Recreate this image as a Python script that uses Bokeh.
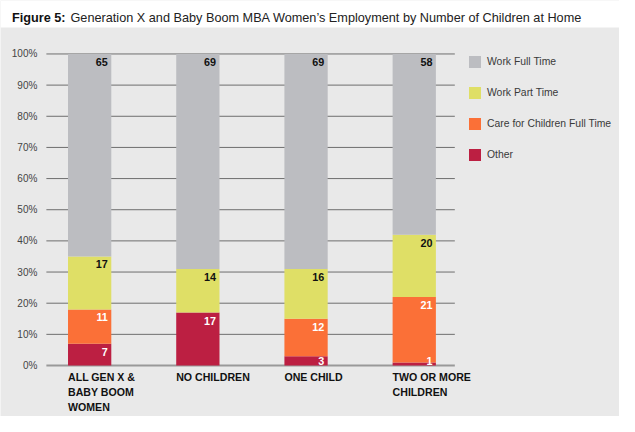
import numpy as np
from bokeh.plotting import figure
from bokeh.models import ColumnDataSource, Range1d, Legend, LegendItem
from bokeh.core.properties import value
from bokeh.embed import file_html
from bokeh.resources import INLINE

# data (percent of women)
categories = ["ALL GEN X &\nBABY BOOM\nWOMEN", "NO CHILDREN", "ONE CHILD", "TWO OR MORE\nCHILDREN"]
other = [7, 17, 3, 1]
care_children = [11, 0, 12, 21]
work_part = [17, 14, 16, 20]
work_full = [65, 69, 69, 58]
series_names = ["Other", "Care for Children Full Time", "Work Part Time", "Work Full Time"]
series_colors = ["#bc1f42", "#fb7037", "#dfdf66", "#bcbdc1"]
label_colors = ["white", "white", "#111111", "#111111"]
y_ticks = [0, 10, 20, 30, 40, 50, 60, 70, 80, 90, 100]
tick_labels = [f"{t}%" for t in y_ticks]

title_bold = "Figure 5:"
title_rest = "Generation X and Baby Boom MBA Women\u2019s Employment by Number of Children at Home"

# layout (the plot frame covers the whole canvas)
W, H = 619, 416
x_start, x_end = -0.824, 4.897
y_start, y_end = -16.37, 117.16
band_bottom = 108.5
grid_left, grid_right = -0.40, 3.375
bar_w = 0.4
bg = "#e9e9e9"
font = "Liberation Sans"

x = np.arange(len(categories))
src = ColumnDataSource(dict(x=x, other=other, care=care_children, part=work_part, full=work_full))

p = figure(width=W, height=H, x_range=Range1d(x_start, x_end), y_range=Range1d(y_start, y_end),
           toolbar_location=None, output_backend="svg", min_border=0)
p.axis.visible = False
p.grid.visible = False
p.outline_line_color = None
p.background_fill_color = bg
p.border_fill_color = "white"

# white title band
p.quad(left=x_start, right=x_end, bottom=band_bottom, top=y_end, fill_color="white", line_color=None)
p.text(x=[x_start], y=[y_end], text=[title_bold], x_offset=11.5, y_offset=17,
       text_font=value(font), text_font_style="bold", text_font_size="12.7px",
       text_color="#111111", text_baseline="alphabetic")
p.text(x=[x_start], y=[y_end], text=[title_rest], x_offset=70, y_offset=17,
       text_font=value(font), text_font_size="12.7px", text_color="#222222",
       text_baseline="alphabetic")

# gridlines and y tick labels
p.segment(x0=grid_left, y0=y_ticks[1:], x1=grid_right, y1=y_ticks[1:], line_color="#6e6e6e", line_width=1)
p.segment(x0=[grid_left], y0=[0], x1=[grid_right], y1=[0], line_color="#999999", line_width=2)
p.text(x=grid_left, y=y_ticks, text=tick_labels, x_offset=-9, text_align="right",
       text_baseline="middle", text_font=value(font), text_font_size="10px", text_color="#444444")

# stacked bars
renderers = p.vbar_stack(["other", "care", "part", "full"], x="x", width=bar_w, source=src,
                         color=series_colors, line_color=None)

# value labels at top-right of each segment
stack = np.zeros(len(categories))
for vals, col in zip([other, care_children, work_part, work_full], label_colors):
    vals = np.array(vals)
    top = stack + vals
    keep = vals > 0
    ly = np.maximum(top, 4.0)
    p.text(x=(x + bar_w / 2)[keep], y=ly[keep], text=[str(v) for v in vals[keep]],
           x_offset=-3.5, y_offset=4, text_align="right", text_baseline="top",
           text_font=value(font), text_font_style="bold", text_font_size="10.8px", text_color=col)
    stack = top

# category labels, left-aligned under each bar
p.text(x=x - bar_w / 2, y=0, text=categories, y_offset=5, text_align="left", text_baseline="top",
       text_font=value(font), text_font_style="bold", text_font_size="10.6px",
       text_color="#111111", text_line_height=1.25)

legend = Legend(items=[LegendItem(label=n, renderers=[r]) for n, r in
                       reversed(list(zip(series_names, renderers)))],
                location=(467, 254), glyph_width=15, glyph_height=15, label_height=15,
                spacing=16, padding=0, margin=0, label_standoff=5,
                background_fill_alpha=0, border_line_color=None,
                label_text_font=font, label_text_font_size="10.4px", label_text_color="#3a3a3a")
p.add_layout(legend)

open("out.html", "w").write(file_html(p, INLINE))
